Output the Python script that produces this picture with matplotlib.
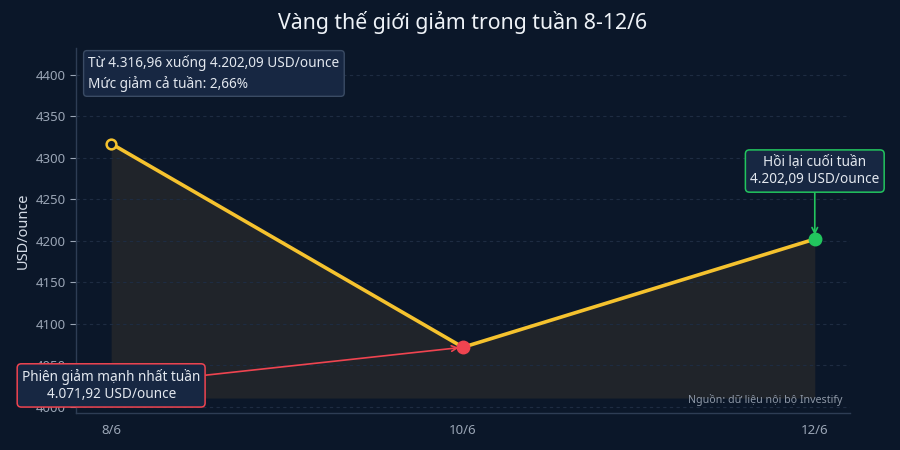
import matplotlib
matplotlib.use("Agg")
import matplotlib.pyplot as plt

plt.rcParams['font.family'] = ['Noto Sans', 'DejaVu Sans']

dates = ["8/6", "10/6", "12/6"]
prices = [4316.96, 4071.92, 4202.09]
y_ticks = [4000, 4050, 4100, 4150, 4200, 4250, 4300, 4350, 4400]
title = "Vàng thế giới giảm trong tuần 8-12/6"
summary = "Từ 4.316,96 xuống 4.202,09 USD/ounce\nMức giảm cả tuần: 2,66%"
low_note = "Phiên giảm mạnh nhất tuần\n4.071,92 USD/ounce"
end_note = "Hồi lại cuối tuần\n4.202,09 USD/ounce"
source = "Nguồn: dữ liệu nội bộ Investify"

BG = "#0b1729"
YEL = "#f5c22e"
RED = "#ef4450"
GRN = "#22c55e"
BOXF = "#172742"

fig = plt.figure(figsize=(9, 4.5), dpi=100, facecolor=BG)
ax = fig.add_axes([0.0844, 0.0822, 0.8600, 0.8110], facecolor=BG)

x = list(range(len(dates)))
base = min(prices) * 0.985
ax.fill_between(x, prices, base, color="#28292b", alpha=0.75, zorder=1, linewidth=0)
ax.plot(x, prices, color=YEL, linewidth=2.6, zorder=3)
ax.plot(x[0], prices[0], marker='o', ms=7, mfc=BG, mec=YEL, mew=1.8, zorder=4)
ax.plot(x[1], prices[1], marker='o', ms=9, color=RED, zorder=4)
ax.plot(x[2], prices[2], marker='o', ms=9, color=GRN, zorder=4)

ax.set_xlim(-0.1, 2.1)
ax.set_ylim(3992.8, 4432)
ax.set_xticks(x)
ax.set_xticklabels(dates)
ax.set_yticks(y_ticks)
ax.tick_params(colors="#9aa5b5", labelsize=9.5, length=4, width=0.8)
ax.tick_params(axis='x', length=0, pad=8)
ax.grid(axis='y', color="#1e2c42", linestyle=(0, (3, 3)), linewidth=0.8, zorder=0)
for s in ["top", "right"]:
    ax.spines[s].set_visible(False)
for s in ["left", "bottom"]:
    ax.spines[s].set_color("#2e3d54")
    ax.spines[s].set_linewidth(1.0)

ax.set_ylabel("USD/ounce", color="#d5dce6", fontsize=10.5, labelpad=3)
ax.set_title(title, color="#eef2f7", fontsize=15.3, pad=14)

ax.text(0.016, 0.98, summary, transform=ax.transAxes, ha='left', va='top',
        fontsize=9.8, color="#e3e8ef", linespacing=1.35, zorder=6,
        bbox=dict(boxstyle="round,pad=0.35,rounding_size=0.25", fc=BOXF, ec="#3a4b64", lw=1))

ax.annotate(low_note, xy=(x[1], prices[1]), xytext=(x[0], 4026),
            ha='center', va='center', fontsize=9.8, color="#e3e8ef", linespacing=1.25, zorder=6,
            bbox=dict(boxstyle="round,pad=0.35,rounding_size=0.3", fc=BOXF, ec=RED, lw=1.1),
            arrowprops=dict(arrowstyle='->', color=RED, lw=1.2, shrinkA=0, shrinkB=3, mutation_scale=10))

ax.annotate(end_note, xy=(x[2], prices[2]), xytext=(x[2], 4284),
            ha='center', va='center', fontsize=9.8, color="#e3e8ef", linespacing=1.25, zorder=6,
            bbox=dict(boxstyle="round,pad=0.35,rounding_size=0.3", fc=BOXF, ec=GRN, lw=1.1),
            arrowprops=dict(arrowstyle='->', color=GRN, lw=1.2, shrinkA=0, shrinkB=3, mutation_scale=10))

ax.text(0.99, 0.037, source, transform=ax.transAxes, ha='right', va='center',
        fontsize=7.7, color="#8d97a6", zorder=6)

fig.savefig("out.png", dpi=100, facecolor=BG)
